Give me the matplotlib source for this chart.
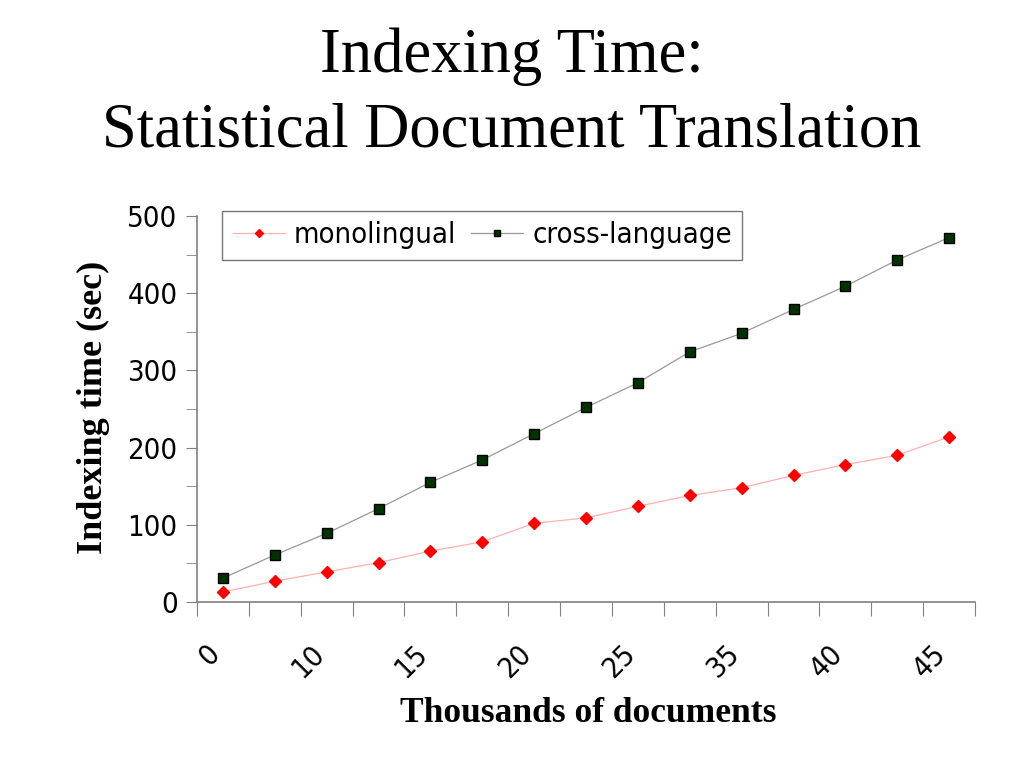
import matplotlib
matplotlib.use("Agg")
import matplotlib.pyplot as plt
import matplotlib.transforms as mtransforms
import numpy as np

# x categories (thousands of documents); only every other one is labelled
categories = ["0", "5", "10", "12.5", "15", "17.5", "20", "22.5",
              "25", "30", "35", "37.5", "40", "42.5", "45"]
shown_labels = ["0", "10", "15", "20", "25", "35", "40", "45"]

monolingual = [13, 27, 39, 51, 66, 78, 102, 109, 124, 138, 148, 164, 178, 190, 214]
cross_language = [31, 61, 89, 121, 155, 184, 218, 252, 284, 324, 348, 379, 409, 443, 472]

plt.rcParams["font.family"] = ["DejaVu Sans"]
plt.rcParams["font.stretch"] = "condensed"

fig = plt.figure(figsize=(10.24, 7.68), dpi=100)
ax = fig.add_axes([0.1924, 0.2161, 0.7598, 0.5027])

x = np.arange(len(categories))
ax.plot(x, monolingual, color="#ffb0b0", lw=0.9, marker="D", ms=6,
        mfc="#ff0000", mec="#ff0000", label="monolingual")
ax.plot(x, cross_language, color="#999999", lw=0.9, marker="s", ms=7.5,
        mfc="#003300", mec="#000000", label="cross-language")

ax.set_xlim(-0.5, len(categories) - 0.5)
ax.set_ylim(0, 500)

ax.spines["top"].set_visible(False)
ax.spines["right"].set_visible(False)
for s in ("left", "bottom"):
    ax.spines[s].set_color("#808080")
    ax.spines[s].set_linewidth(1.2)

ax.set_yticks(np.arange(0, 501, 100))
ax.set_yticks(np.arange(50, 500, 100), minor=True)
ax.tick_params(axis="y", which="both", direction="out", length=8,
               color="#808080", labelsize=21, pad=6)

ax.set_xticks(np.arange(-0.5, len(categories), 1.0))
ax.set_xticklabels([])
ax.tick_params(axis="x", which="major", direction="out", length=10, color="#808080")
ax.set_xticks(x[::2], minor=True)
ax.set_xticklabels(shown_labels, minor=True, rotation=45, ha="right",
                   rotation_mode="anchor", fontsize=21)
ax.tick_params(axis="x", which="minor", length=0, pad=27)
shift = mtransforms.ScaledTranslation(-17 / 100, 0, fig.dpi_scale_trans)
for lab in ax.get_xticklabels(minor=True):
    lab.set_transform(lab.get_transform() + shift)

leg = ax.legend(loc="upper left", ncol=2, fontsize=21, frameon=True,
                fancybox=False, edgecolor="#555555", handlelength=1.8,
                handletextpad=0.3, columnspacing=0.5, borderpad=0.35,
                markerscale=0.65, bbox_to_anchor=(0.014, 1.05))
leg.get_frame().set_linewidth(1.0)

fig.text(0.5, 0.926, "Indexing Time:", ha="center", va="center",
         family="Liberation Serif", fontsize=45)
fig.text(0.5, 0.829, "Statistical Document Translation", ha="center", va="center",
         family="Liberation Serif", fontsize=45)

fig.text(0.091, 0.469, "Indexing time (sec)", rotation=90, ha="center", va="center",
         family="Liberation Serif", fontweight="bold", fontsize=26)
fig.text(0.574, 0.071, "Thousands of documents", ha="center", va="center",
         family="Liberation Serif", fontweight="bold", fontsize=25.5)

fig.savefig("out.png", dpi=100)
